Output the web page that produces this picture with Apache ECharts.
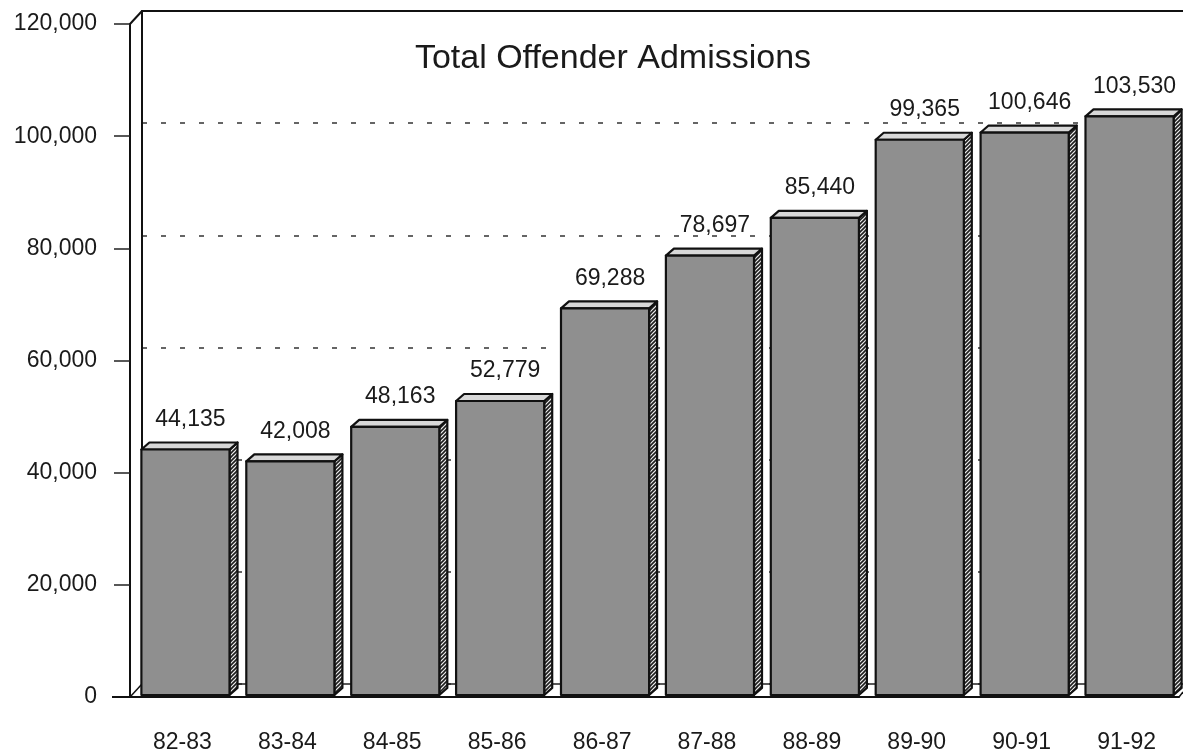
<!DOCTYPE html>
<html lang="en">
<head>
    <meta charset="UTF-8">
    <title>Total Offender Admissions</title>
    <script src="https://cdn.jsdelivr.net/npm/echarts@6/dist/echarts.min.js"></script>
    <style>
        html, body { margin: 0; padding: 0; background: #fff; }
    </style>
</head>
<body>
<div id="box1" style="width: 1183px;height: 756px"></div>
<script>
    var years = ['82-83', '83-84', '84-85', '85-86', '86-87', '87-88', '88-89', '89-90', '90-91', '91-92'];
    var admissions = [44135, 42008, 48163, 52779, 69288, 78697, 85440, 99365, 100646, 103530];
    var yTicks = [0, 20000, 40000, 60000, 80000, 100000, 120000];

    var font = "'Liberation Sans', Arial, Helvetica, sans-serif";
    // front plane and back wall (3D offset of the wall)
    var front = {left: 130, right: 4, top: 24, bottom: 59};
    var wallDx = 12, wallDy = 13;
    var barDx = 8, barDy = 7;

    function hatch() {
        var c = document.createElement('canvas');
        c.width = 4; c.height = 4;
        var g = c.getContext('2d');
        g.fillStyle = '#eeeeee';
        g.fillRect(0, 0, 4, 4);
        g.strokeStyle = '#1e1e1e';
        g.lineWidth = 1.6;
        g.beginPath();
        g.moveTo(0, 4); g.lineTo(4, 0);
        g.moveTo(-1, 1); g.lineTo(1, -1);
        g.moveTo(3, 5); g.lineTo(5, 3);
        g.stroke();
        return c;
    }
    var sidePattern = {image: hatch(), repeat: 'repeat'};

    function fmt(v) {
        return v.toString().replace(/\B(?=(\d{3})+(?!\d))/g, ',');
    }

    var mychar = echarts.init(document.getElementById("box1"));

    var option = {
        backgroundColor: '#fff',
        animation: false,
        title: {
            text: 'Total Offender Admissions',
            left: 608,
            top: 37,
            textAlign: 'center',
            textStyle: {fontFamily: font, fontSize: 34, fontWeight: 'normal', color: '#1a1a1a'}
        },
        grid: [
            {left: front.left, right: front.right, top: front.top, bottom: front.bottom},
            {left: front.left + wallDx, right: 0, top: front.top - wallDy, bottom: front.bottom + wallDy}
        ],
        xAxis: [
            {
                type: 'category', gridIndex: 0, data: years,
                axisLine: {lineStyle: {color: '#111', width: 2}},
                axisTick: {alignWithLabel: true, length: 17, lineStyle: {color: '#222', width: 1.5}},
                axisLabel: {margin: 34, fontFamily: font, fontSize: 23, color: '#1a1a1a'}
            },
            {
                type: 'category', gridIndex: 1, data: years, position: 'bottom',
                axisLine: {lineStyle: {color: '#222', width: 1.5}},
                axisTick: {show: false}, axisLabel: {show: false}
            },
            {
                type: 'category', gridIndex: 1, data: years, position: 'top',
                axisLine: {lineStyle: {color: '#111', width: 2}},
                axisTick: {show: false}, axisLabel: {show: false}
            }
        ],
        yAxis: [
            {
                type: 'value', gridIndex: 0, min: yTicks[0], max: yTicks[yTicks.length - 1], interval: 20000,
                axisLine: {show: true, lineStyle: {color: '#111', width: 2}},
                axisTick: {show: true, length: 16, lineStyle: {color: '#222', width: 1.5}},
                axisLabel: {
                    margin: 33, fontFamily: font, fontSize: 23, color: '#1a1a1a',
                    formatter: function (v) { return fmt(v); }
                },
                splitLine: {show: false}
            },
            {
                type: 'value', gridIndex: 1, min: yTicks[0], max: yTicks[yTicks.length - 1], interval: 20000,
                axisLine: {show: true, lineStyle: {color: '#111', width: 2}},
                axisTick: {show: false}, axisLabel: {show: false},
                splitLine: {show: true, lineStyle: {color: '#333', width: 1.5, type: [5, 14]}}
            }
        ],
        series: [{
            type: 'custom',
            xAxisIndex: 0,
            yAxisIndex: 0,
            z: 10,
            data: admissions.map(function (v, i) { return [i, v]; }),
            renderItem: function (params, api) {
                var p = api.coord([api.value(0), api.value(1)]);
                var b = api.coord([api.value(0), 0]);
                var band = api.size([1, 0])[0];
                var w = band * 0.84;
                var x0 = p[0] - w / 2 + 3, x1 = x0 + w;
                var yt = p[1], yb = b[1] - 2;
                var stroke = {stroke: '#111', lineWidth: 2.2, lineJoin: 'round'};
                return {
                    type: 'group',
                    children: [
                        {
                            type: 'polygon',
                            shape: {points: [[x1, yt], [x1 + barDx, yt - barDy], [x1 + barDx, yb - barDy], [x1, yb]]},
                            style: Object.assign({fill: sidePattern}, stroke)
                        },
                        {
                            type: 'polygon',
                            shape: {points: [[x0, yt], [x0 + barDx, yt - barDy], [x1 + barDx, yt - barDy], [x1, yt]]},
                            style: Object.assign({fill: '#d8d8d8'}, stroke)
                        },
                        {
                            type: 'rect',
                            shape: {x: x0, y: yt, width: w, height: yb - yt},
                            style: Object.assign({fill: '#8f8f8f'}, stroke)
                        },
                        {
                            type: 'text',
                            style: {
                                text: fmt(api.value(1)),
                                x: (x0 + x1) / 2 + 5,
                                y: yt - 30,
                                align: 'center',
                                verticalAlign: 'middle',
                                font: '23px ' + font,
                                fill: '#1a1a1a'
                            }
                        }
                    ]
                };
            }
        }],
        graphic: [
            {
                type: 'polyline', z: 5,
                shape: {points: [[front.left, front.top], [front.left + wallDx, front.top - wallDy]]},
                style: {stroke: '#111', lineWidth: 2}
            },
            {
                type: 'polyline', z: 5,
                shape: {points: [[front.left, 756 - front.bottom], [front.left + wallDx, 756 - front.bottom - wallDy]]},
                style: {stroke: '#111', lineWidth: 1.5}
            },
            {
                type: 'polyline', z: 5,
                shape: {points: [[112, 756 - front.bottom], [front.left, 756 - front.bottom]]},
                style: {stroke: '#111', lineWidth: 2}
            },
            {
                type: 'polyline', z: 5,
                shape: {points: [[1183 - front.right, 756 - front.bottom], [1183, 756 - front.bottom - 5]]},
                style: {stroke: '#111', lineWidth: 1.5}
            }
        ]
    };
    mychar.setOption(option);
</script>
</body>
</html>
